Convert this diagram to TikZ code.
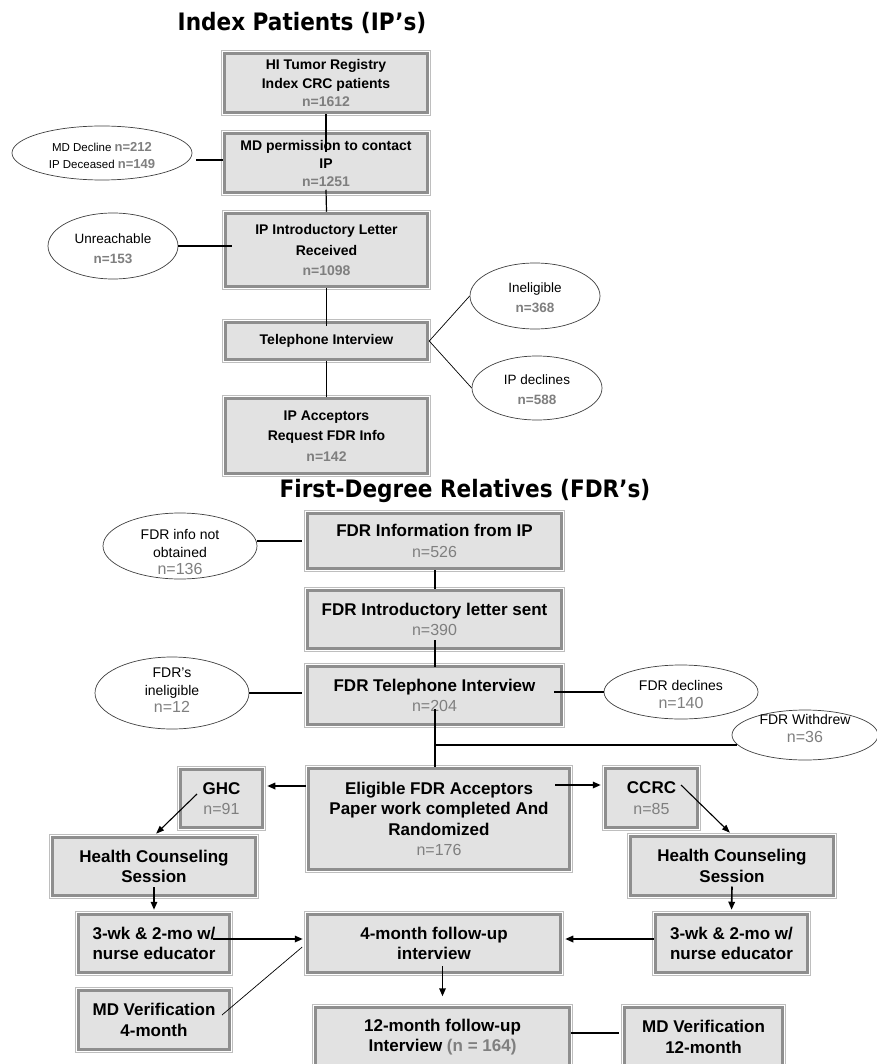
\documentclass[tikz,border=0pt]{standalone}
\usepackage{fontspec}
\setmainfont{Liberation Sans}
\newfontfamily\titlefont[FakeStretch=0.9]{DejaVu Sans}
\usetikzlibrary{shapes.geometric,arrows.meta,calc}
\definecolor{nfill}{HTML}{E2E2E2}
\definecolor{band}{HTML}{8E8E8E}
\definecolor{outerl}{HTML}{BEBEBE}
\definecolor{ngray}{HTML}{7F7F7F}
\newcommand{\fbx}[7]{\node[fbox,#7, minimum width={#4-#2-7}, minimum height={#5-#3-7}] (#1) at ({(#2+#4)/2},{(#3+#5)/2}) {#6};}
\newcommand{\gry}[1]{\textcolor{ngray}{#1}}
\newcommand{\etxt}[2]{\raisebox{#1}[0pt][0pt]{\begin{tabular}{@{}c@{}}#2\end{tabular}}}
\tikzset{
  fbox/.style={rectangle, fill=nfill, draw=band, line width=3.5pt,
    preaction={draw=outerl, line width=7pt},
    preaction={draw=white, line width=5.2pt},
    align=center, inner sep=0pt, text=black},
  topf/.style={font=\fontsize{14}{18}\selectfont\bfseries},
  fdrf/.style={font=\fontsize{17}{20.5}\selectfont\bfseries},
  ell/.style={ellipse, draw=black!75, line width=0.7pt, fill=white, inner sep=0pt, align=center},
  ellt/.style={ellipse, draw=black!75, line width=0.7pt, fill=white, inner sep=0pt},
  ln/.style={line width=1.2pt},
  thinln/.style={line width=0.7pt},
  thk/.style={line width=2pt},
  arr/.style={line width=1.6pt, -{Triangle[length=8pt,width=6.5pt]}, shorten >=3pt},
  arrthin/.style={line width=1.1pt, -{Triangle[length=8pt,width=6pt]}, shorten >=3pt},
  ttl/.style={font=\titlefont\bfseries\fontsize{24}{28}\selectfont, inner sep=0pt}
}
\begin{document}
\begin{tikzpicture}[x=1pt,y=-1pt]
\useasboundingbox (0,0) rectangle (876,1064);
\fill[white] (0,0) rectangle (876,1064);

% ---------- Index patients ----------
\node[ttl] (T1) at (302,23) {Index Patients (IP’s)};
\fbx{A1}{221}{50}{431}{116}{HI Tumor Registry\\Index CRC patients\\\gry{n=1612}}{topf}
\fbx{A2}{221}{130}{431}{196}{MD permission to contact\\IP\\\gry{n=1251}}{topf}
\fbx{A3}{222}{210}{431}{290}{IP Introductory Letter\\Received\\\gry{n=1098}}{topf,font=\fontsize{14}{20.5}\selectfont\bfseries}
\fbx{A4}{222}{319}{431}{363}{Telephone Interview}{topf}
\fbx{A5}{222}{395}{431}{477}{IP Acceptors\\Request FDR Info\\\gry{n=142}}{topf,font=\fontsize{14}{20.5}\selectfont\bfseries}

\node[ell, minimum width=180, minimum height=54, font=\fontsize{11.5}{17}\selectfont] (E1) at (102,153)
  {\rule{0pt}{14pt}MD Decline {\bfseries\fontsize{13}{17}\selectfont\gry{n=212}}\\
   IP Deceased {\bfseries\fontsize{13}{17}\selectfont\gry{n=149}}};
\node[ell, minimum width=130, minimum height=66, font=\fontsize{13.5}{20}\selectfont] (E2) at (113,246)
  {\rule{0pt}{15pt}Unreachable\\{\bfseries\gry{n=153}}};
\node[ell, minimum width=130, minimum height=66, font=\fontsize{13.5}{20}\selectfont] (E3) at (535,296)
  {\rule{0pt}{13pt}Ineligible\\{\bfseries\gry{n=368}}};
\node[ell, minimum width=130, minimum height=64, font=\fontsize{13.5}{20}\selectfont] (E4) at (537,388)
  {\rule{0pt}{13pt}IP declines\\{\bfseries\gry{n=588}}};

\draw[ln] (A1.south) -- ($(A2.north)+(0,20)$);
\draw[ln] ($(A2.south)+(0,-4.5)$) -- (A3.north);
\draw[ln] (A3.south) -- ($(A4.north)+(0,5)$);
\draw[ln] (A4.south) -- (A5.north);
\draw[ln] ($(E1.east)+(4,7)$) -- ($(A2.west)+(0,-3)$);
\draw[ln] (E2.east) -- ($(E2.east -| A3.west)+(8,0)$);
\draw[thinln] (A4.east) -- (E3.west);
\draw[thinln] (A4.east) -- (E4.west);

% ---------- First-degree relatives ----------
\node[ttl] (T2) at (465,491) {First-Degree Relatives (FDR’s)};
\fbx{B1}{304}{510}{565}{572}{FDR Information from IP\\{\mdseries\fontsize{16}{20}\selectfont\gry{n=526}}}{fdrf}
\fbx{B2}{304}{587}{565}{652}{FDR Introductory letter sent\\{\mdseries\fontsize{16}{20}\selectfont\gry{n=390}}}{fdrf}
\fbx{B3}{304}{663}{565}{728}{FDR Telephone Interview\\{\mdseries\fontsize{16}{20}\selectfont\gry{n=204}}}{fdrf}
\fbx{B4}{305}{765}{573}{873}{Eligible FDR Acceptors\\Paper work completed And\\Randomized\\{\mdseries\fontsize{16}{20}\selectfont\gry{n=176}}}{fdrf}
\fbx{G}{177}{766}{266}{831}{GHC\\{\mdseries\fontsize{16}{20}\selectfont\gry{n=91}}}{fdrf}
\fbx{C}{602}{765}{701}{831}{CCRC\\{\mdseries\fontsize{16}{20}\selectfont\gry{n=85}}}{fdrf}
\fbx{HL}{49}{834}{259}{899}{Health Counseling\\Session}{fdrf}
\fbx{HR}{627}{833}{837}{899}{Health Counseling\\Session}{fdrf}
\fbx{NL}{75}{911}{233}{976}{3-wk \& 2-mo w/\\nurse educator}{fdrf}
\fbx{NR}{652}{911}{811}{976}{3-wk \& 2-mo w/\\nurse educator}{fdrf}
\fbx{F4}{304}{911}{564}{976}{4-month follow-up\\interview}{fdrf}
\fbx{ML}{75}{987}{233}{1053}{MD Verification\\4-month}{fdrf}
\fbx{F12}{312}{1004}{573}{1070}{12-month follow-up\\Interview \gry{(n = 164)}}{fdrf}
\fbx{MV}{621}{1004}{786}{1070}{MD Verification\\12-month}{fdrf}

\node[ellt, minimum width=154, minimum height=66, font=\fontsize{14}{17.5}\selectfont] (EF1) at (180,546)
  {\etxt{-11.5pt}{FDR info not\\obtained\\{\fontsize{16}{19}\selectfont\gry{n=136}}}};
\node[ellt, minimum width=154, minimum height=72, font=\fontsize{14}{17.5}\selectfont] (EF2) at (172,693)
  {\etxt{-2.5pt}{FDR’s\\ineligible\\{\fontsize{16}{19}\selectfont\gry{n=12}}}};
\node[ellt, minimum width=154, minimum height=54, font=\fontsize{14}{18.5}\selectfont] (EF3) at (681,692)
  {\etxt{-7.5pt}{FDR declines\\{\fontsize{16}{19}\selectfont\gry{n=140}}}};
\node[ellt, minimum width=146, minimum height=50, font=\fontsize{14}{18.5}\selectfont] (EF4) at (805,735)
  {\etxt{1.5pt}{FDR Withdrew\\{\fontsize{16}{19}\selectfont\gry{n=36}}}};

\draw[thk] (EF1.east |- B1.west) -- ($(B1.west)+(-4,0)$);
\draw[thk] (B1.south) -- (B2.north);
\draw[thk] ($(B2.south)+(0,-10)$) -- ($(B3.north)+(0,2)$);
\draw[thk] (EF2.east) -- ($(EF2.east -| B3.west)+(-4,0)$);
\draw[thk] ($(B3.east |- EF3.west)+(-9,0)$) -- (EF3.west);
\draw[thk] ($(B3.south)+(0,-17)$) -- (B3.south |- B4.north);
\coordinate (j) at ($(B3.south)+(0,18.5)$);
\draw[thk, shorten >=-5pt] (j) -- (j -| EF4.west);

\coordinate (b4l) at ($(B4.west)+(-1,-33)$);
\draw[arr] (b4l) -- (b4l -| G.east);
\coordinate (b4r) at ($(B4.east)+(-16,-34)$);
\draw[arr] (b4r) -- (b4r -| C.west);
\draw[arrthin] ($(G.center)+(-24.5,-4.5)$) -- (HL.north);
\draw[arrthin] ($(C.center)+(29.5,-13)$) -- (HR.north);
\draw[arr] ($(HL.center)+(0,20.5)$) -- (NL.north);
\draw[arr] ($(HR.center)+(0,20.5)$) -- (NR.north);
\coordinate (nl) at ($(NL.center)+(59,-4.5)$);
\draw[arr] (nl) -- (nl -| F4.west);
\coordinate (nr) at ($(NR.west)+(0,-4.5)$);
\draw[arr] (nr) -- (nr -| F4.east);
\draw[thinln] ($(ML.center)+(68,-5)$) -- ($(F4.west)+(-3.5,3.5)$);
\draw[arr, shorten >=0pt] ($(F4.south -| F12.north)+(0,-8)$) -- ($(F12.north)+(0,-9.5)$);
\coordinate (f12r) at ($(F12.east)+(0,-4)$);
\draw[thk, shorten >=3.5pt] (f12r) -- (f12r -| MV.west);
\end{tikzpicture}
\end{document}
